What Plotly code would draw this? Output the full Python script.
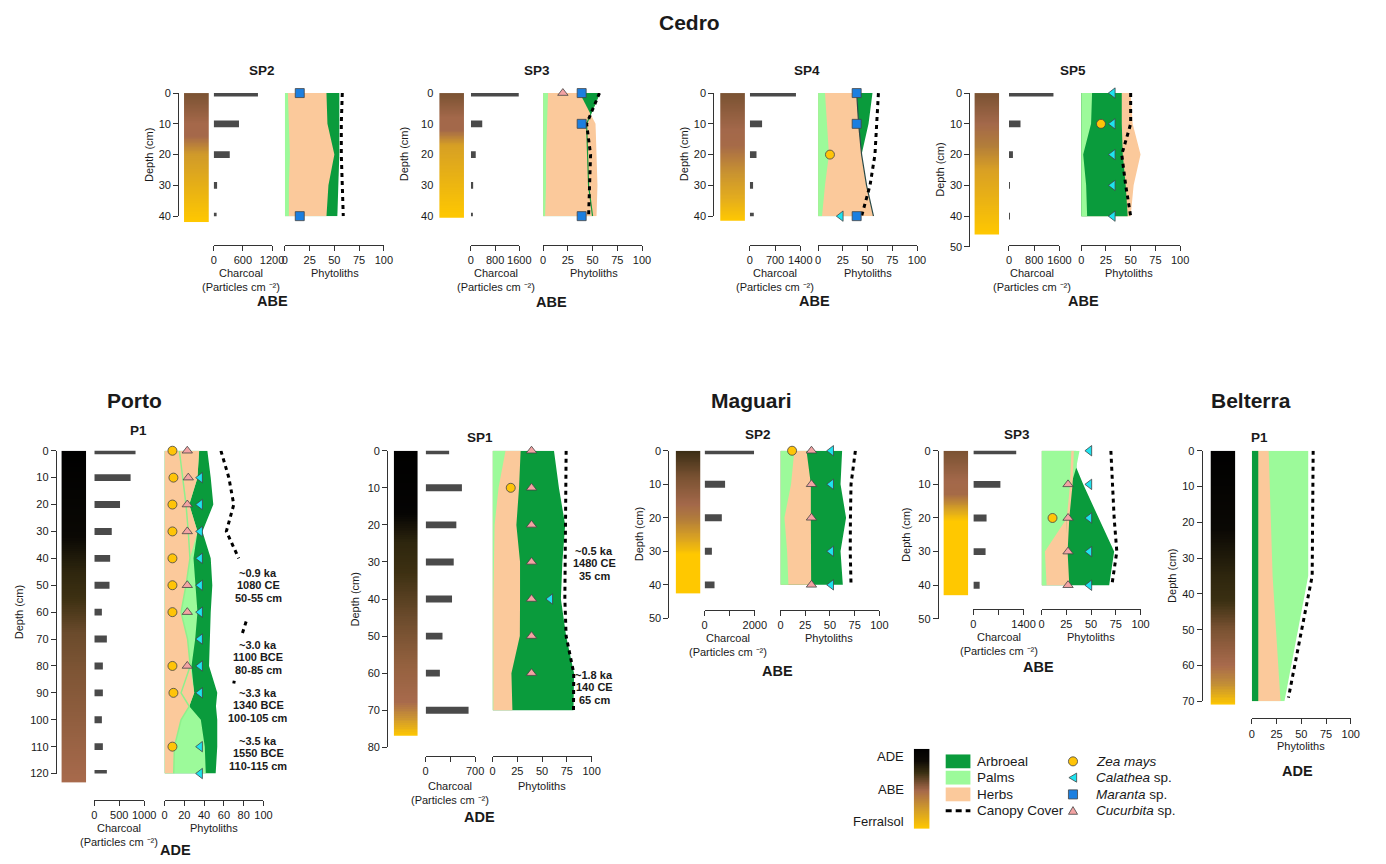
import numpy as np
import plotly.graph_objects as go

W, H = 1386, 864
FONT = "Arial, Liberation Sans, sans-serif"
TXT = "#1a1a1a"
AX = "#333333"

C_ARB = "#0a9b3c"
C_PALM = "#9cfa9a"
C_HERB = "#fbc99b"
C_CHAR = "#4a4a4a"
C_ZEA = "#ffc408"
C_CAL = "#1ee3ef"
C_MAR = "#1c7fe0"
C_CUC = "#f3a3a3"

# ======================= DATA =======================
cedro_sp2_depth = [0, 10, 20, 30, 40]
cedro_sp2_charcoal = [910, 520, 330, 70, 60]
cedro_sp2_palms = [3, 4, 5, 4, 4]
cedro_sp2_herbs = [42, 43, 50, 44, 42]
cedro_sp2_arboreal = [55, 55, 55, 54, 53]
cedro_sp2_canopy = [58, 57, 57, 58, 59]
cedro_sp2_maranta = [15, None, None, None, 15]
cedro_sp2_soil = [(0, "#7a5232"), (10, "#a5684a"), (14, "#a5684a"), (20, "#d09a2a"), (42, "#ffc800")]

cedro_sp3_depth = [0, 10, 20, 30, 40]
cedro_sp3_charcoal = [1580, 375, 160, 75, 40]
cedro_sp3_palms = [5, 4, 3, 3, 2]
cedro_sp3_herbs = [37, 53, 54, 55, 54]
cedro_sp3_arboreal = [57, 44, 45, 46, 50]
cedro_sp3_canopy = [57, 44, 48, 47, 46]
cedro_sp3_maranta = [39, 39, None, None, 39]
cedro_sp3_cucurbita = [20, None, None, None, None]
cedro_sp3_soil = [(0, "#7a5232"), (8, "#a3684a"), (12, "#a3684a"), (17, "#d7a024"), (40.5, "#ffc800")]

cedro_sp4_depth = [0, 10, 20, 30, 40]
cedro_sp4_charcoal = [1280, 340, 185, 90, 110]
cedro_sp4_palms = [7, 9, 11, 7, 4]
cedro_sp4_herbs = [39, 41, 44, 49, 56]
cedro_sp4_arboreal = [55, 51, 44, 43, 42]
cedro_sp4_canopy = [61, 59, 57.5, 52.5, 44]
cedro_sp4_maranta = [39, 39, None, None, 39]
cedro_sp4_zea = [None, None, 12, None, None]
cedro_sp4_calathea = [None, None, None, None, 23]
cedro_sp4_soil = [(0, "#7a5232"), (12, "#a3684a"), (17, "#a66a48"), (26, "#c99330"), (34, "#e3ac1e"), (41.5, "#ffc800")]

cedro_sp5_depth = [0, 10, 20, 30, 40]
cedro_sp5_charcoal = [1410, 365, 125, 30, 30]
cedro_sp5_palms = [11, 10, 2, 5, 6]
cedro_sp5_herbs = [50, 52, 60, 53, 50]
cedro_sp5_arboreal = [41, 41, 42, 45, 47]
cedro_sp5_canopy = [50, 50, 41, 45, 50]
cedro_sp5_calathea = [32, 32, 32, 32, 32]
cedro_sp5_zea = [None, 20, None, None, None]
cedro_sp5_soil = [(0, "#7a5232"), (10, "#a3684a"), (17, "#b27d3a"), (25, "#d9a024"), (46, "#ffc800")]

porto_p1_depth = [0, 10, 20, 30, 40, 50, 60, 70, 80, 90, 100, 110, 120]
porto_p1_charcoal = [827, 728, 516, 350, 318, 305, 152, 252, 172, 172, 152, 172, 252]
porto_p1_area_depth = [0, 10, 20, 30, 40, 50, 60, 70, 80, 90, 95, 100, 110, 120]
porto_p1_herbs = [35, 33.3, 25, 33.3, 25.7, 21.7, 16.7, 23.3, 26, 30, 25, 16.7, 10, 9.3]
porto_p1_herbs_line = [15, 18.3, 21.7, 24, 25.7, 21.7, 16.7, 23.3, 26, 16.7, 25, 16.7, 10, 9.3]
porto_p1_palms = [35, 33.3, 25, 33.3, 29.3, 31, 33.3, 31, 27.3, 30, 25, 36.7, 40.7, 41.7]
porto_p1_arboreal = [43.3, 46.7, 49.3, 38.3, 46.7, 48.3, 46.7, 46, 45, 53.3, 52, 53.3, 53.3, 51.7]
porto_p1_canopy_depth = [0, 10, 20, 30, 40, None, 63.5, 68.3, None, 85.5, 86.5]
porto_p1_canopy = [57, 65, 70, 62.5, 75, None, 82.5, 78.3, None, 70.5, 70]
porto_p1_zea = [8, 9, 8, 8, 8, 8, 8, None, 8, 9, None, 8, None]
porto_p1_cucurbita = [23, 24, 23, 23, None, 23, 23, None, 23, None, None, None, None]
porto_p1_calathea = [None, 36, 36, 36, 36, 36, 36, 36, 36, 36, None, 36, 36]
porto_p1_soil = [(0, "#000000"), (32, "#0a0804"), (45, "#2e260e"), (55, "#3d3012"), (68, "#6b4b2c"), (82, "#7e5535"), (123.3, "#a86a4c")]
porto_p1_dates = ["~0.9 ka|1080 CE|50-55 cm", "~3.0 ka|1100 BCE|80-85 cm",
                  "~3.3 ka|1340 BCE|100-105 cm", "~3.5 ka|1550 BCE|110-115 cm"]
porto_p1_date_depth = [50, 76.7, 94.7, 112.5]

maguari_sp1_depth = [0, 10, 20, 30, 40, 50, 60, 70]
maguari_sp1_charcoal = [332, 513, 434, 397, 373, 238, 201, 607]
maguari_sp1_palms = [13, 6, 2, 1, 0.7, 0.7, 0.7, 0.7]
maguari_sp1_herbs = [28.3, 26.7, 24, 27.7, 27.7, 27.5, 19, 20]
maguari_sp1_arboreal = [62, 67, 73.3, 70.5, 69, 74.3, 82.3, 81.7]
maguari_sp1_canopy = [74.3, 74, 74, 73, 73, 74.3, 82, 81.7]
maguari_sp1_cucurbita = [39.3, 39.3, 39.3, 39.3, 39.3, 39.3, 39.3, None]
maguari_sp1_zea = [None, 18.3, None, None, None, None, None, None]
maguari_sp1_calathea = [None, None, None, None, 58.3, None, None, None]
maguari_sp1_soil = [(0, "#000000"), (17, "#050403"), (25, "#2e260e"), (33, "#3d3012"), (45, "#6b4b2c"), (58, "#94613f"), (68, "#a86a4c"), (72, "#c99234"), (77, "#ffc800")]
maguari_sp1_dates = ["~0.5 ka|1480 CE|35 cm", "~1.8 ka|140 CE|65 cm"]
maguari_sp1_date_depth = [30.3, 63.8]

maguari_sp2_depth = [0, 10, 20, 30, 40]
maguari_sp2_charcoal = [1970, 816, 686, 290, 395]
maguari_sp2_palms = [14, 10.7, 4, 6.7, 8]
maguari_sp2_herbs = [26.3, 30.7, 30.7, 31, 31]
maguari_sp2_arboreal = [62.3, 60.7, 66.3, 60.7, 63]
maguari_sp2_canopy = [75.7, 71.3, 70.7, 70.5, 71.3]
maguari_sp2_zea = [11.7, None, None, None, None]
maguari_sp2_cucurbita = [31.3, 31.3, 31.3, None, 31.3]
maguari_sp2_calathea = [51.3, 51.3, None, 51.3, 51.3]
maguari_sp2_soil = [(0, "#3a2d14"), (8, "#7a5232"), (16, "#a3684a"), (20, "#b07a3c"), (26, "#d9a222"), (31, "#ffc800"), (42.6, "#ffc800")]

maguari_sp3_depth = [0, 10, 20, 30, 40]
maguari_sp3_charcoal = [1196, 754, 368, 340, 175]
maguari_sp3_area_depth = [0, 5, 10, 20, 30, 40]
maguari_sp3_palms = [38.3, 35, 30, 25.7, 3.3, 5]
maguari_sp3_herbs = [31, 31, 30, 25.5, 25, 26.7]
maguari_sp3_herbs_line = [31.3, 31, 30, 26.7, 25, 26.7]
maguari_sp3_arboreal = [35, 35, 42, 57.7, 73.3, 68.3]
maguari_sp3_canopy = [70, 71.7, 73.3, 76, 71]
maguari_sp3_calathea = [48.3, 48.3, 48.3, 48.3, 48.3]
maguari_sp3_cucurbita = [None, 26.7, 26.7, 26.7, 26.7]
maguari_sp3_zea = [None, None, 11, None, None]
maguari_sp3_soil = [(0, "#7a5232"), (9, "#a3684a"), (13, "#a56a47"), (18, "#deaa1e"), (21, "#ffc800"), (43, "#ffc800")]

belterra_p1_area_depth = [0, 35, 70]
belterra_p1_arboreal = [6.5, 6.5, 6.5]
belterra_p1_herbs = [17, 21, 29]
belterra_p1_palms = [57, 57, 33]
belterra_p1_canopy_depth = [0, 35, 69]
belterra_p1_canopy = [62, 61, 37]
belterra_p1_soil = [(0, "#000000"), (22, "#0a0804"), (35, "#2e260e"), (42, "#3a2f12"), (50, "#7a5232"), (60, "#a86a4c"), (65, "#c08c38"), (71, "#ffc800")]

legend_soil = [(0, "#000000"), (0.15, "#0d0a05"), (0.3, "#3a2f12"), (0.52, "#a5684a"), (0.75, "#d09a2a"), (1.0, "#ffc800")]
legend_soil_labels = ["ADE", "ABE", "Ferralsol"]
legend_layer_labels = ["Arbroeal", "Palms", "Herbs", "Canopy Cover"]
legend_marker_labels = ["<i>Zea mays</i>", "<i>Calathea</i> sp.", "<i>Maranta</i> sp.", "<i>Cucurbita</i> sp."]

# ======================= BUILD =======================
fig = go.Figure()
axes = {}
shapes = []
annotations = []
counter = {"x": 0, "y": 0}


def px(x):
    return x / W


def py(y):
    return 1 - y / H


def new_axis(kind):
    counter[kind] += 1
    n = counter[kind]
    key = f"{kind}axis" if n == 1 else f"{kind}axis{n}"
    ref = kind if n == 1 else f"{kind}{n}"
    return key, ref


def ann(text, x, y, size=11, bold=False, xanchor="center", angle=0):
    if bold:
        text = f"<b>{text}</b>"
    annotations.append(dict(text=text, x=px(x), y=py(y), xref="paper", yref="paper",
                            showarrow=False, xanchor=xanchor, yanchor="middle", textangle=angle,
                            font=dict(family=FONT, size=size, color=TXT)))


LAYER_COL = {"Arboreal": C_ARB, "Palms": C_PALM, "Herbs": C_HERB}
MARK = {
    "zea": dict(symbol="circle", color=C_ZEA),
    "calathea": dict(symbol="triangle-left", color=C_CAL),
    "maranta": dict(symbol="square", color=C_MAR),
    "cucurbita": dict(symbol="triangle-up", color=C_CUC),
}


def xaxis_style(domain, rng, pos, tickvals, ticktext, minor=None):
    d = dict(domain=domain, range=rng, anchor="free", position=pos, tickvals=tickvals,
             ticktext=ticktext, ticks="outside", ticklen=5, tickwidth=1, tickcolor=AX,
             showline=True, linecolor=AX, linewidth=1, showgrid=False, zeroline=False,
             tickangle=0, fixedrange=True,
             tickfont=dict(family=FONT, size=11, color=TXT))
    if minor:
        d["minor"] = dict(tickmode="array", tickvals=minor, ticks="outside", ticklen=5,
                          tickwidth=1, tickcolor=AX, showgrid=False)
    return d


def add_panel(P):
    ppc, y0, dmax = P["ppc"], P["y0"], P["dmax"]
    yline = P.get("yline", True)
    ykey, yref = new_axis("y")
    axes[ykey] = dict(domain=[py(y0 + dmax * ppc), py(y0)], range=[dmax, 0],
                      anchor="free", position=px(P["yx"]),
                      tickvals=list(range(0, dmax + 1, 10)),
                      ticks="outside" if yline else "", ticklen=5, tickwidth=1, tickcolor=AX,
                      showline=yline, linecolor=AX, linewidth=1,
                      showgrid=False, zeroline=False, fixedrange=True,
                      tickfont=dict(family=FONT, size=11, color=TXT))
    ann("Depth (cm)", P["yx"] - P.get("ylab_off", 30), y0 + dmax / 2 * ppc, size=11, angle=-90)

    sb = P["soil_bottom"]
    sykey, syref = new_axis("y")
    axes[sykey] = dict(domain=[py(y0 + sb * ppc), py(y0)], range=[sb, 0], visible=False,
                       fixedrange=True, anchor="free", position=px(P["yx"]))
    xkey, xref = new_axis("x")
    axes[xkey] = dict(domain=[px(P["soil_x"][0]), px(P["soil_x"][1])], range=[0, 1],
                      anchor=syref, visible=False, fixedrange=True)
    edges = np.linspace(0, sb, 160)
    mids = (edges[:-1] + edges[1:]) / 2
    last = P["soil"][-1][0]
    cs = [[min(d / last, 1.0), c] for d, c in P["soil"]]
    cs[0][0], cs[-1][0] = 0.0, 1.0
    fig.add_trace(go.Heatmap(x=[0, 1], y=edges, z=[[m] for m in mids], colorscale=cs,
                             zmin=0, zmax=last, showscale=False, xaxis=xref, yaxis=syref,
                             hoverinfo="skip"))

    if P.get("charcoal") is not None:
        xkey, xref = new_axis("x")
        ticks = P["char_ticks"]
        axes[xkey] = xaxis_style([px(P["char_x"][0]), px(P["char_x"][1])], [0, P["char_max"]],
                                 py(P["xaxis_y"]), ticks, [str(t) for t in ticks],
                                 P.get("char_minor"))
        fig.add_trace(go.Bar(x=P["charcoal"], y=P["depth"], orientation="h", width=7.0 / ppc,
                             marker=dict(color=C_CHAR, line=dict(width=0)), xaxis=xref,
                             yaxis=yref, hoverinfo="skip", cliponaxis=False))

    xkey, xref = new_axis("x")
    ptk = P.get("phy_ticks", [0, 25, 50, 75, 100])
    axes[xkey] = xaxis_style([px(P["phy_x0"]), px(P["phy_x0"] + 100)], [0, 100],
                             py(P["xaxis_y"]), ptk, [str(t) for t in ptk])
    adepth = P.get("area_depth", P.get("depth"))
    for lay in P["order"]:
        col = LAYER_COL[lay]
        fig.add_trace(go.Scatter(x=P["layers"][lay], y=adepth, mode="lines",
                                 line=dict(width=0, color=col), fill="tozerox", fillcolor=col,
                                 xaxis=xref, yaxis=yref, name=lay, hoverinfo="skip"))
    if P.get("edge") is not None:
        ex, ecol, ew = P["edge"]
        fig.add_trace(go.Scatter(x=ex, y=adepth, mode="lines", line=dict(width=ew, color=ecol),
                                 xaxis=xref, yaxis=yref, hoverinfo="skip"))
    cd = P.get("canopy_depth", P.get("depth"))
    fig.add_trace(go.Scatter(x=P["canopy"], y=cd, mode="lines", connectgaps=False,
                             line=dict(color="black", width=3, dash="4px,4px"),
                             xaxis=xref, yaxis=yref, name="Canopy Cover", hoverinfo="skip"))
    for key in ["zea", "calathea", "maranta", "cucurbita"]:
        vals = P.get("markers", {}).get(key)
        if vals is None:
            continue
        xs = [v for v in vals if v is not None]
        ys = [d for d, v in zip(P["depth"], vals) if v is not None]
        m = MARK[key]
        fig.add_trace(go.Scatter(x=xs, y=ys, mode="markers", cliponaxis=False,
                                 marker=dict(symbol=m["symbol"], size=9, color=m["color"],
                                             line=dict(color="#444444", width=0.8)),
                                 xaxis=xref, yaxis=yref, name=key, hoverinfo="skip"))
    if P.get("dates") is not None:
        for txt, dd in zip(P["dates"], P["date_depth"]):
            for i, ln in enumerate(txt.split("|")):
                annotations.append(dict(text=f"<b>{ln}</b>", x=P["date_x"] / 100.0, y=dd,
                                        xref=f"{xref} domain", yref=yref, showarrow=False,
                                        yshift=(1 - i) * 12.5, xanchor="center",
                                        yanchor="middle",
                                        font=dict(family=FONT, size=11, color=TXT)))

    ann(P["title"], P["title_xy"][0], P["title_xy"][1], size=13.5, bold=True)
    if P.get("charcoal") is not None:
        cx, cy = P["char_lab"]
        ann("Charcoal", cx, cy, size=11)
        ann("(Particles cm \u207b\u00b2)", cx, cy + 14, size=11)
    ann("Phytoliths", P["phy_lab"][0], P["phy_lab"][1], size=11)
    ann(P["site"], P["site_xy"][0], P["site_xy"][1], size=14.5, bold=True)


PHY_EVEN = [0, 20, 40, 60, 80, 100]

panels = [
    dict(title="SP2", title_xy=(262, 65), y0=88.3, ppc=3.12, dmax=40, yx=177, soil_x=(183, 208),
         soil_bottom=42, soil=cedro_sp2_soil, depth=cedro_sp2_depth, charcoal=cedro_sp2_charcoal,
         char_x=(213, 272), char_max=1200, char_ticks=[0, 600, 1200],
         phy_x0=285, xaxis_y=242, order=["Arboreal", "Herbs", "Palms"],
         layers=dict(Arboreal=cedro_sp2_arboreal, Herbs=cedro_sp2_herbs, Palms=cedro_sp2_palms),
         canopy=cedro_sp2_canopy, markers=dict(maranta=cedro_sp2_maranta),
         char_lab=(241, 271), phy_lab=(336, 271), site="ABE", site_xy=(272, 299)),
    dict(title="SP3", title_xy=(540, 65), y0=88.3, ppc=3.12, dmax=40, yx=435, yline=False,
         soil_x=(441, 466), soil_bottom=40.5, soil=cedro_sp3_soil, depth=cedro_sp3_depth,
         charcoal=cedro_sp3_charcoal, char_x=(473, 522), char_max=1600, char_ticks=[0, 800, 1600],
         phy_x0=546, xaxis_y=242, order=["Arboreal", "Herbs", "Palms"],
         layers=dict(Arboreal=cedro_sp3_arboreal, Herbs=cedro_sp3_herbs, Palms=cedro_sp3_palms),
         edge=(cedro_sp3_arboreal, "#169a3a", 1.2),
         canopy=cedro_sp3_canopy, markers=dict(maranta=cedro_sp3_maranta, cucurbita=cedro_sp3_cucurbita),
         char_lab=(498, 271), phy_lab=(597, 271), site="ABE", site_xy=(555, 300)),
    dict(title="SP4", title_xy=(813, 65), y0=88.3, ppc=3.12, dmax=40, yx=718, soil_x=(725, 750),
         soil_bottom=41.5, soil=cedro_sp4_soil, depth=cedro_sp4_depth, charcoal=cedro_sp4_charcoal,
         char_x=(755, 806), char_max=1400, char_ticks=[0, 700, 1400],
         phy_x0=824, xaxis_y=242, order=["Arboreal", "Herbs", "Palms"],
         layers=dict(Arboreal=cedro_sp4_arboreal, Herbs=cedro_sp4_herbs, Palms=cedro_sp4_palms),
         edge=(cedro_sp4_herbs, "#2c4a48", 1.2),
         canopy=cedro_sp4_canopy,
         markers=dict(maranta=cedro_sp4_maranta, zea=cedro_sp4_zea, calathea=cedro_sp4_calathea),
         char_lab=(780, 271), phy_lab=(874, 271), site="ABE", site_xy=(820, 299)),
    dict(title="SP5", title_xy=(1082, 65), y0=88.3, ppc=3.12, dmax=50, yx=977, soil_x=(982, 1007),
         soil_bottom=46, soil=cedro_sp5_soil, depth=cedro_sp5_depth, charcoal=cedro_sp5_charcoal,
         char_x=(1017, 1068), char_max=1600, char_ticks=[0, 800, 1600],
         phy_x0=1090, xaxis_y=242, order=["Herbs", "Arboreal", "Palms"],
         layers=dict(Arboreal=cedro_sp5_arboreal, Herbs=cedro_sp5_herbs, Palms=cedro_sp5_palms),
         canopy=cedro_sp5_canopy, markers=dict(calathea=cedro_sp5_calathea, zea=cedro_sp5_zea),
         char_lab=(1040, 271), phy_lab=(1138, 271), site="ABE", site_xy=(1092, 299)),
    dict(title="P1", title_xy=(137, 430), y0=451, ppc=2.728, dmax=120, yx=53.3, ylab_off=37,
         soil_x=(59, 84), soil_bottom=123.3, soil=porto_p1_soil, depth=porto_p1_depth,
         charcoal=porto_p1_charcoal, char_x=(92.3, 142.7), char_max=1000, char_ticks=[0, 500, 1000],
         phy_x0=163.3, phy_ticks=PHY_EVEN, xaxis_y=805,
         area_depth=porto_p1_area_depth, order=["Arboreal", "Palms", "Herbs"],
         layers=dict(Arboreal=porto_p1_arboreal, Herbs=porto_p1_herbs, Palms=porto_p1_palms),
         edge=(porto_p1_herbs_line, "#8ff08c", 1.5),
         canopy=porto_p1_canopy, canopy_depth=porto_p1_canopy_depth,
         markers=dict(zea=porto_p1_zea, cucurbita=porto_p1_cucurbita, calathea=porto_p1_calathea),
         dates=porto_p1_dates, date_depth=porto_p1_date_depth, date_x=94.5,
         char_lab=(117, 834), phy_lab=(213, 834), site="ADE", site_xy=(174, 856)),
    dict(title="SP1", title_xy=(482, 438), y0=451, ppc=3.759, dmax=80, yx=388.3, ylab_off=32,
         soil_x=(395, 419.3), soil_bottom=77, soil=maguari_sp1_soil, depth=maguari_sp1_depth,
         charcoal=maguari_sp1_charcoal, char_x=(427.3, 477.3), char_max=700, char_ticks=[0, 700],
         char_minor=[350], phy_x0=495, xaxis_y=760.7,
         order=["Arboreal", "Herbs", "Palms"],
         layers=dict(Arboreal=maguari_sp1_arboreal, Herbs=maguari_sp1_herbs, Palms=maguari_sp1_palms),
         canopy=maguari_sp1_canopy,
         markers=dict(cucurbita=maguari_sp1_cucurbita, zea=maguari_sp1_zea, calathea=maguari_sp1_calathea),
         dates=maguari_sp1_dates, date_depth=maguari_sp1_date_depth, date_x=102.5,
         char_lab=(452, 791), phy_lab=(545, 791), site="ADE", site_xy=(482, 822)),
    dict(title="SP2", title_xy=(763, 435), y0=451, ppc=3.4, dmax=50, yx=672.7, soil_x=(680, 705),
         soil_bottom=42.6, soil=maguari_sp2_soil, depth=maguari_sp2_depth,
         charcoal=maguari_sp2_charcoal, char_x=(709.3, 760), char_max=2000, char_ticks=[0, 2000],
         char_minor=[1000], phy_x0=786, xaxis_y=612.7,
         order=["Arboreal", "Herbs", "Palms"],
         layers=dict(Arboreal=maguari_sp2_arboreal, Herbs=maguari_sp2_herbs, Palms=maguari_sp2_palms),
         canopy=maguari_sp2_canopy,
         markers=dict(zea=maguari_sp2_zea, cucurbita=maguari_sp2_cucurbita, calathea=maguari_sp2_calathea),
         char_lab=(733, 641), phy_lab=(835, 641), site="ABE", site_xy=(783, 674)),
    dict(title="SP3", title_xy=(1025, 435), y0=451, ppc=3.41, dmax=50, yx=945, ylab_off=32,
         soil_x=(950.7, 975.7), soil_bottom=43, soil=maguari_sp3_soil, depth=maguari_sp3_depth,
         charcoal=maguari_sp3_charcoal, char_x=(981, 1031.7), char_max=1400, char_ticks=[0, 1400],
         char_minor=[700], phy_x0=1050, xaxis_y=611.7,
         area_depth=maguari_sp3_area_depth, order=["Arboreal", "Herbs", "Palms"],
         layers=dict(Arboreal=maguari_sp3_arboreal, Herbs=maguari_sp3_herbs, Palms=maguari_sp3_palms),
         edge=(maguari_sp3_herbs_line, C_HERB, 2.5),
         canopy=maguari_sp3_canopy,
         markers=dict(calathea=maguari_sp3_calathea, cucurbita=maguari_sp3_cucurbita, zea=maguari_sp3_zea),
         char_lab=(1007, 640), phy_lab=(1100, 640), site="ABE", site_xy=(1047, 670)),
    dict(title="P1", title_xy=(1270, 438), y0=451, ppc=3.629, dmax=70, yx=1211.7,
         soil_x=(1220.7, 1245.7), soil_bottom=71, soil=belterra_p1_soil, depth=None,
         charcoal=None, phy_x0=1262.5, xaxis_y=722.5, area_depth=belterra_p1_area_depth,
         order=["Palms", "Herbs", "Arboreal"],
         layers=dict(Arboreal=belterra_p1_arboreal, Herbs=belterra_p1_herbs, Palms=belterra_p1_palms),
         canopy=belterra_p1_canopy, canopy_depth=belterra_p1_canopy_depth,
         phy_lab=(1312, 750), site="ADE", site_xy=(1309, 776)),
]

for P in panels:
    add_panel(P)

ann("Cedro", 694, 17, size=21, bold=True)
ann("Porto", 133, 400, size=21, bold=True)
ann("Maguari", 757, 400, size=21, bold=True)
ann("Belterra", 1262, 400, size=21, bold=True)

# ---------------- legend key ----------------
xkey, xref = new_axis("x")
ykey, yref = new_axis("y")
axes[xkey] = dict(domain=[px(920.7), px(936.7)], range=[0, 1], anchor=yref, visible=False, fixedrange=True)
axes[ykey] = dict(domain=[py(834.3), py(753.3)], range=[1, 0], anchor=xref, visible=False, fixedrange=True)
ge = np.linspace(0, 1, 120)
gm = (ge[:-1] + ge[1:]) / 2
fig.add_trace(go.Heatmap(x=[0, 1], y=ge, z=[[m] for m in gm],
                         colorscale=[[f, c] for f, c in legend_soil], zmin=0, zmax=1,
                         showscale=False, xaxis=xref, yaxis=yref, hoverinfo="skip"))
for lab, yy in zip(legend_soil_labels, [761, 795, 827]):
    ann(lab, 913, yy, size=13, xanchor="right")

key_rows = [766, 782.5, 799.5, 816]
for col, yy in zip([C_ARB, C_PALM, C_HERB], key_rows[:3]):
    shapes.append(dict(type="rect", xref="paper", yref="paper", x0=px(953), x1=px(978),
                       y0=py(yy + 7), y1=py(yy - 7), fillcolor=col, line=dict(width=0)))
shapes.append(dict(type="line", xref="paper", yref="paper", x0=px(953), x1=px(978),
                   y0=py(key_rows[3]), y1=py(key_rows[3]),
                   line=dict(color="black", width=3, dash="6px,4px")))
for lab, yy in zip(legend_layer_labels, key_rows):
    ann(lab, 983, yy, size=13.5, xanchor="left")


def ppath(points):
    return "M " + " L ".join(f"{px(a):.5f},{py(b):.5f}" for a, b in points) + " Z"


mx, s = 1081.7, 4.6
edge_line = dict(color="#444444", width=0.8)
shapes.append(dict(type="circle", xref="paper", yref="paper", x0=px(mx - s), x1=px(mx + s),
                   y0=py(key_rows[0] + s), y1=py(key_rows[0] - s), fillcolor=C_ZEA, line=edge_line))
yy = key_rows[1]
shapes.append(dict(type="path", xref="paper", yref="paper",
                   path=ppath([(mx + s * 0.8, yy - s), (mx - s * 0.9, yy), (mx + s * 0.8, yy + s)]),
                   fillcolor=C_CAL, line=edge_line))
yy = key_rows[2]
shapes.append(dict(type="rect", xref="paper", yref="paper", x0=px(mx - s), x1=px(mx + s),
                   y0=py(yy + s), y1=py(yy - s), fillcolor=C_MAR, line=edge_line))
yy = key_rows[3]
shapes.append(dict(type="path", xref="paper", yref="paper",
                   path=ppath([(mx - s, yy + s * 0.8), (mx, yy - s * 0.9), (mx + s, yy + s * 0.8)]),
                   fillcolor=C_CUC, line=edge_line))
for lab, yy in zip(legend_marker_labels, key_rows):
    ann(lab, 1103, yy, size=13.5, xanchor="left")

fig.update_layout(
    width=W, height=H, margin=dict(l=0, r=0, t=0, b=0),
    paper_bgcolor="white", plot_bgcolor="rgba(0,0,0,0)",
    font=dict(family=FONT, color=TXT),
    showlegend=False,
    shapes=shapes, annotations=annotations,
    **axes,
)

fig.write_html("out.html", config={"displayModeBar": False, "responsive": False},
               post_script="document.documentElement.style.margin='0';"
                           "document.body.style.margin='0';document.body.style.padding='0';"
                           "document.documentElement.style.overflow='hidden';"
                           "document.body.style.overflow='hidden';")
